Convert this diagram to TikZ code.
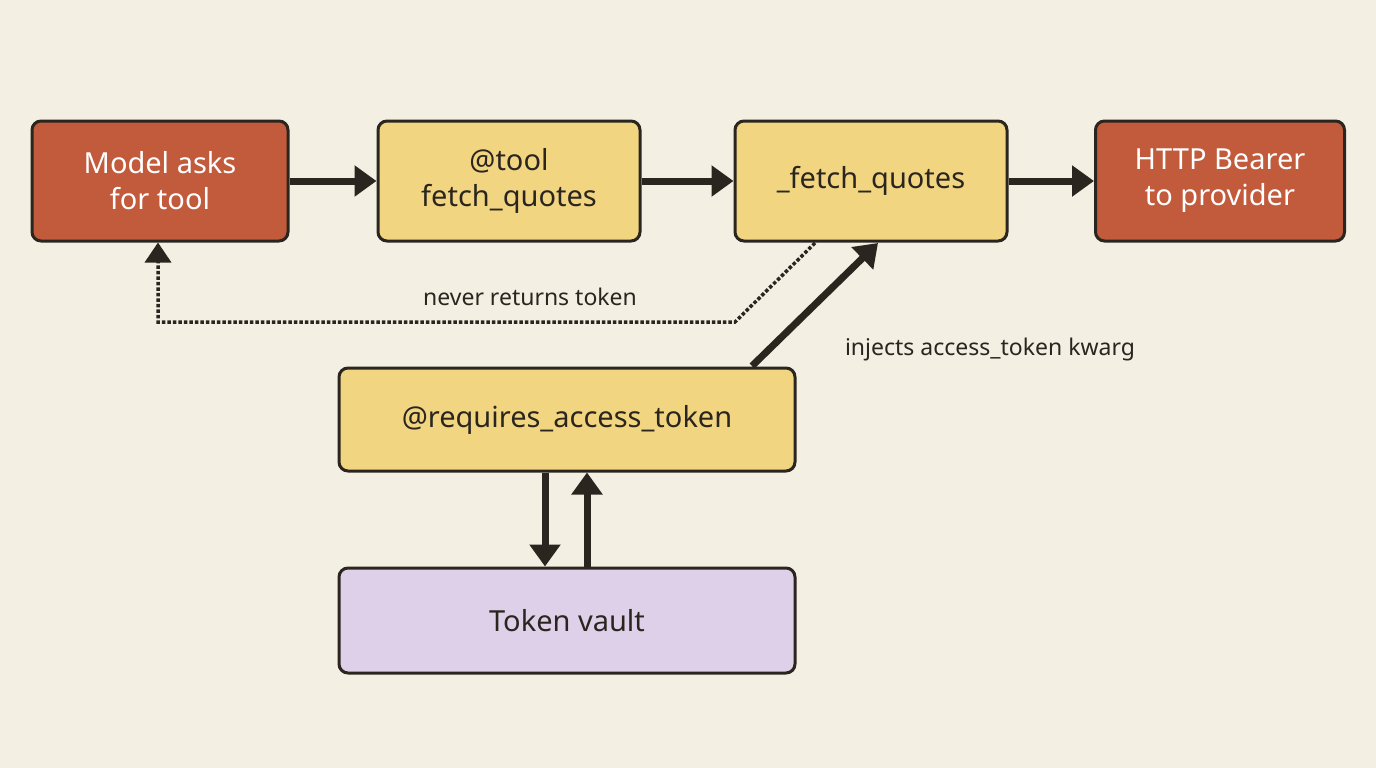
\documentclass[tikz,border=0pt]{standalone}
\usepackage{fontspec}
\setmainfont{Noto Sans}
\usetikzlibrary{arrows.meta}
\definecolor{bg}{HTML}{F3EFE3}
\definecolor{redb}{HTML}{C25A3C}
\definecolor{yelb}{HTML}{F2D580}
\definecolor{purb}{HTML}{DED0E8}
\definecolor{ink}{HTML}{2A251F}
\tikzset{
 box/.style={draw=ink,line width=3pt,rounded corners=9pt,align=center,font=\fontsize{29}{36}\selectfont,text=ink,inner sep=0pt},
 redbox/.style={box,fill=redb,text=white},
 yelbox/.style={box,fill=yelb},
 purbox/.style={box,fill=purb},
 arr/.style={draw=ink,line width=7pt,-{Triangle[length=22pt,width=30pt]}},
 dot/.style={draw=ink,line width=3.5pt,dotted,-{Triangle[length=20pt,width=26pt]}},
 lbl/.style={font=\fontsize{23}{28}\selectfont,text=ink}
}
\begin{document}
\begin{tikzpicture}[x=1pt,y=-1pt]
\fill[bg] (0,0) rectangle (1376,768);
\useasboundingbox (0,0) rectangle (1376,768);
\node[redbox,minimum width=256pt,minimum height=120pt] (model) at (160,181) {Model asks\\for tool};
\node[yelbox,minimum width=262pt,minimum height=120pt] (tool) at (509,181) {@tool\\fetch\_quotes};
\node[yelbox,minimum width=272pt,minimum height=120pt] (fetch) at (871,181) {\_fetch\_quotes};
\node[redbox,minimum width=249pt,minimum height=120pt] (http) at (1220,181) {HTTP Bearer\\to provider};
\node[yelbox,minimum width=456pt,minimum height=103pt] (req) at (567,419.5) {@requires\_access\_token};
\node[purbox,minimum width=456pt,minimum height=105pt] (vault) at (567,620.5) {Token vault};
\draw[arr] (model.east) -- (tool.west);
\draw[arr] (tool.east) -- (fetch.west);
\draw[arr] (fetch.east) -- (http.east -| 1094,0);
\coordinate (d1) at (815,243);
\coordinate (d2) at (735,322);
\coordinate (d3) at (158,322);
\draw[dot] (d1) -- (d2) -- (d3) -- (model.south -| d3);
\node[lbl] (nr) at (530,297) {never returns token};
\coordinate (i1) at (752,366);
\coordinate (i2) at (878,243);
\draw[arr] (i1) -- (i2);
\node[lbl] (inj) at (990,350) {injects access\_token kwarg};
\draw[arr] (req.south -| 545,0) -- (vault.north -| 545,0);
\draw[arr] (vault.north -| 587,0) -- (req.south -| 587,0);
\end{tikzpicture}
\end{document}
